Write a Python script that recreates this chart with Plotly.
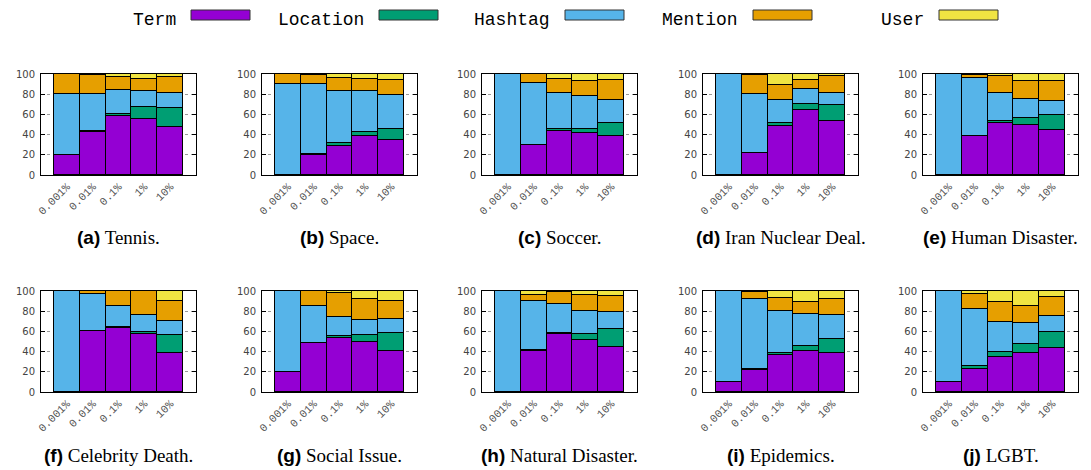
import plotly.graph_objects as go

W, H = 1091, 470
OX, OY = 8, 8  # page body margin compensation

categories = ["0.001%", "0.01%", "0.1%", "1%", "10%"]
series_names = ["Term", "Location", "Hashtag", "Mention", "User"]
series_colors = ["#9400D3", "#009E73", "#56B4E9", "#E69F00", "#F0E442"]

# Each topic: [Term, Location, Hashtag, Mention, User] per bucket (percent)
tennis = [[20, 43, 58, 55, 48], [0, 1, 2, 12, 18], [60, 36, 24, 16, 15], [20, 19, 13, 12, 16], [0, 1, 3, 5, 3]]
space = [[0, 20, 29, 39, 35], [0, 1, 3, 4, 11], [90, 69, 51, 40, 33], [10, 9, 13, 12, 15], [0, 1, 4, 5, 6]]
soccer = [[0, 30, 44, 42, 39], [0, 0, 2, 4, 12], [100, 61, 35, 32, 23], [0, 9, 14, 15, 20], [0, 0, 5, 7, 6]]
iran = [[0, 22, 49, 64, 53], [0, 0, 2, 6, 16], [100, 58, 23, 15, 12], [0, 19, 15, 9, 17], [0, 1, 11, 6, 2]]
human_disaster = [[0, 39, 51, 50, 45], [0, 0, 2, 6, 14], [100, 57, 28, 19, 14], [0, 3, 17, 18, 20], [0, 1, 2, 7, 7]]
celebrity = [[0, 60, 63, 57, 39], [0, 0, 1, 2, 17], [100, 37, 21, 17, 14], [0, 3, 15, 24, 20], [0, 0, 0, 0, 10]]
social = [[20, 49, 53, 50, 41], [0, 0, 2, 6, 17], [80, 36, 19, 15, 14], [0, 15, 24, 21, 18], [0, 0, 2, 8, 10]]
natural = [[0, 41, 57, 51, 45], [0, 1, 1, 6, 17], [100, 48, 29, 23, 17], [0, 6, 12, 16, 16], [0, 4, 1, 4, 5]]
epidemics = [[10, 22, 37, 41, 39], [0, 1, 2, 5, 13], [90, 69, 41, 31, 24], [0, 7, 13, 12, 16], [0, 1, 7, 11, 8]]
lgbt = [[10, 23, 35, 39, 44], [0, 3, 5, 9, 15], [90, 56, 29, 20, 16], [0, 15, 20, 17, 19], [0, 3, 11, 15, 6]]

topics = [tennis, space, soccer, iran, human_disaster, celebrity, social, natural, epidemics, lgbt]
labels = ["(a)", "(b)", "(c)", "(d)", "(e)", "(f)", "(g)", "(h)", "(i)", "(j)"]
titles = ["Tennis.", "Space.", "Soccer.", "Iran Nuclear Deal.", "Human Disaster.",
          "Celebrity Death.", "Social Issue.", "Natural Disaster.", "Epidemics.", "LGBT."]
y_ticks = [0, 20, 40, 60, 80, 100]

col_left = [41, 262, 482, 703, 923]
plot_w = 155
row_top = [74, 291]
plot_h = 101
caption_y = [238, 455]


def px_x(v):
    return (v - OX) / W


def px_y(v):
    return 1 - (v - OY) / H


fig = go.Figure()
layout = dict(
    width=W, height=H, autosize=False, margin=dict(l=0, r=0, t=0, b=0, pad=0),
    paper_bgcolor="white", plot_bgcolor="white",
    barmode="stack", bargap=0, showlegend=False,
)
annotations = []
shapes = []

for i, topic in enumerate(topics):
    r, c = divmod(i, 5)
    n = i + 1
    xa = "x" if n == 1 else f"x{n}"
    ya = "y" if n == 1 else f"y{n}"
    for s, name in enumerate(series_names):
        fig.add_trace(go.Bar(
            x=categories, y=topic[s], name=name, xaxis=xa, yaxis=ya,
            marker=dict(color=series_colors[s], line=dict(color="black", width=1)),
            width=1,
        ))
    layout["xaxis" if n == 1 else f"xaxis{n}"] = dict(
        domain=[px_x(col_left[c]), px_x(col_left[c] + plot_w)], anchor=ya,
        type="category", range=[-1, 5],
        categoryorder="array", categoryarray=categories,
        tickangle=-45, ticks="", showgrid=False, automargin=False,
        tickfont=dict(family="Liberation Mono", size=11, color="#555"),
        showline=True, mirror=True, linecolor="black", linewidth=1,
    )
    layout["yaxis" if n == 1 else f"yaxis{n}"] = dict(
        domain=[px_y(row_top[r] + plot_h), px_y(row_top[r])], anchor=xa,
        range=[0, 100], tickvals=y_ticks,
        ticks="inside", ticklen=4, tickcolor="black", automargin=False,
        ticklabelstandoff=3,
        showgrid=True, gridcolor="#999", griddash="dot", gridwidth=1,
        tickfont=dict(family="DejaVu Sans", size=10, color="#444"),
        showline=True, mirror="allticks", linecolor="black", linewidth=1,
        zeroline=False,
    )
    annotations.append(dict(
        xref="paper", yref="paper",
        x=px_x(col_left[c] + plot_w / 2), y=px_y(caption_y[r]),
        xanchor="center", yanchor="middle", showarrow=False,
        text=f'<span style="font-family:Liberation Sans;font-weight:bold">{labels[i]}</span> {titles[i]}',
        font=dict(family="Liberation Serif", size=19, color="black"),
    ))

# Legend (text followed by swatch)
swatch_left = [191, 379, 565, 753, 939]
swatch_w = 59
for s, name in enumerate(series_names):
    sl = swatch_left[s]
    shapes.append(dict(
        type="rect", xref="paper", yref="paper",
        x0=px_x(sl), x1=px_x(sl + swatch_w), y0=px_y(20), y1=px_y(10),
        fillcolor=series_colors[s], line=dict(color="#333", width=1),
    ))
    annotations.append(dict(
        xref="paper", yref="paper", x=px_x(sl - 13), y=1,
        xanchor="right", yanchor="top", showarrow=False, text=name,
        font=dict(family="Liberation Mono", size=18, color="black"),
    ))

layout["annotations"] = annotations
layout["shapes"] = shapes
fig.update_layout(**layout)
fig.write_html("out.html")
